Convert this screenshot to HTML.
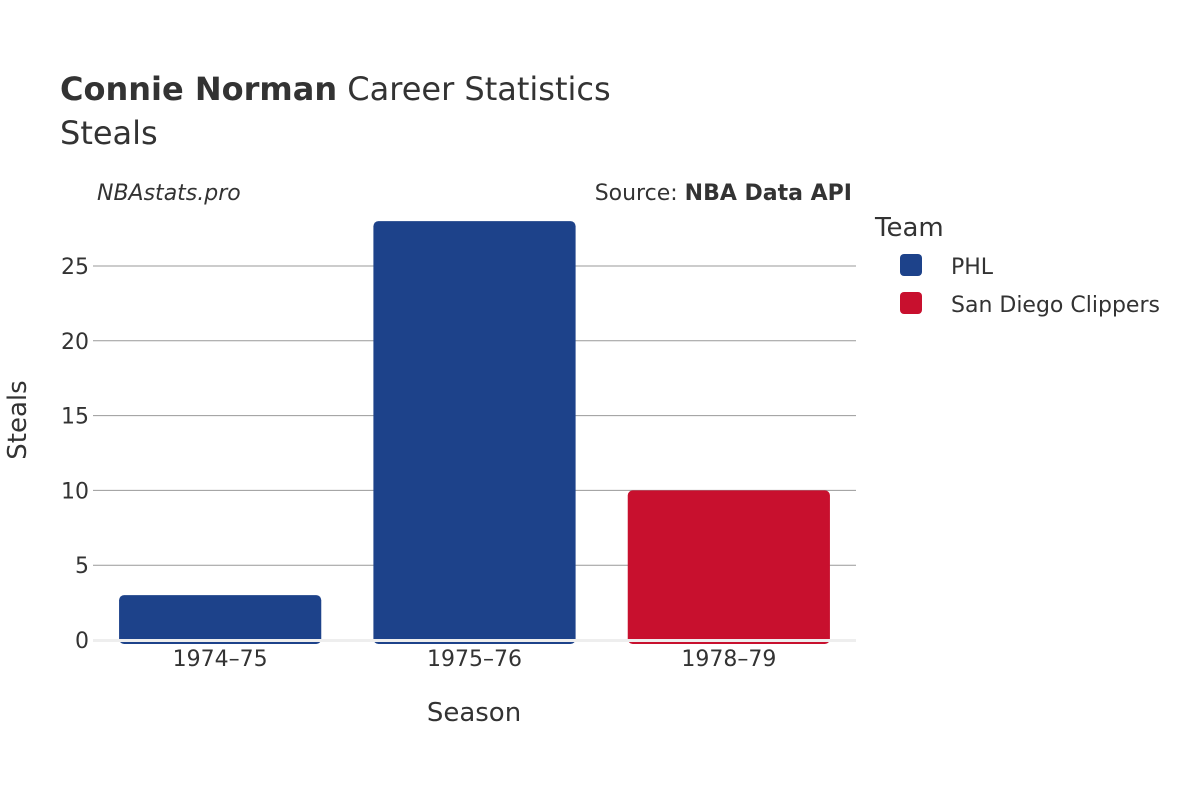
<!DOCTYPE html>
<html><head><meta charset="utf-8"><style>
body{margin:0;background:#fff;}
svg{font-family:"DejaVu Sans","Liberation Sans",sans-serif;}
</style></head><body>
<svg id="chart" width="1200" height="800" xmlns="http://www.w3.org/2000/svg">
<text x="60" y="100" font-size="32" fill="#333"><tspan font-weight="bold">Connie Norman</tspan> Career Statistics</text>
<text x="60" y="144" font-size="32" fill="#333">Steals</text>
<text x="97" y="200" font-size="22" font-style="italic" fill="#333">NBAstats.pro</text>
<text x="852" y="200" font-size="22" fill="#333" text-anchor="end">Source: <tspan font-weight="bold">NBA Data API</tspan></text>
<g id="grid"></g>
<rect x="93" y="639" width="763" height="3" fill="#eee"/>
<g id="bars"></g>
<g id="xticks"></g>
<text x="474" y="721" font-size="26" fill="#333" text-anchor="middle">Season</text>
<text transform="translate(26,420) rotate(-90)" font-size="26" fill="#333" text-anchor="middle">Steals</text>
<text x="875" y="236" font-size="26" fill="#333">Team</text>
<g><rect x="900" y="254" width="22" height="22" rx="4" fill="#1d428a"/><text x="951" y="274" font-size="22" fill="#333">PHL</text></g>
<g><rect x="900" y="292" width="22" height="22" rx="4" fill="#c8102e"/><text x="951" y="312" font-size="22" fill="#333">San Diego Clippers</text></g>
</svg>
<script>
const seasons=["1974–75","1975–76","1978–79"];
const steals=[3,28,10];
const teams=["PHL","PHL","San Diego Clippers"];
const yTicks=[0,5,10,15,20,25];
const colors={"PHL":"#1d428a","San Diego Clippers":"#c8102e"};
const NS="http://www.w3.org/2000/svg";
const x0=93,x1=856,y0=640,pxPerUnit=14.96;
function yScale(v){return y0-v*pxPerUnit;}
const band=(x1-x0)/seasons.length;
function xCenter(i){return x0+band*(i+0.5);}
const grid=document.getElementById('grid');
yTicks.forEach(t=>{
  if(t>0){const l=document.createElementNS(NS,'line');
  l.setAttribute('x1',x0);l.setAttribute('x2',x1);l.setAttribute('y1',yScale(t));l.setAttribute('y2',yScale(t));
  l.setAttribute('stroke','#999');l.setAttribute('stroke-width','1');
  
  
  grid.appendChild(l);}
  const tx=document.createElementNS(NS,'text');
  tx.setAttribute('x',89);tx.setAttribute('y',yScale(t)+8);tx.setAttribute('text-anchor','end');
  tx.setAttribute('font-size','22');tx.setAttribute('fill','#333');tx.textContent=t;
  
  
  grid.appendChild(tx);
});
const bars=document.getElementById('bars'),xt=document.getElementById('xticks');
const bw=band*0.795;
seasons.forEach((s,i)=>{
  const r=document.createElementNS(NS,'rect');
  const top=yScale(steals[i]);
  r.setAttribute('x',xCenter(i)-bw/2);r.setAttribute('y',top);r.setAttribute('width',bw);r.setAttribute('height',y0-top+4);
  r.setAttribute('rx','5');r.setAttribute('fill',colors[teams[i]]);
  
  
  bars.appendChild(r);
  const t=document.createElementNS(NS,'text');
  t.setAttribute('x',xCenter(i));t.setAttribute('y',666);t.setAttribute('text-anchor','middle');
  t.setAttribute('font-size','22');t.setAttribute('fill','#333');t.textContent=s;
  
  
  xt.appendChild(t);
});
// cover bar bottoms under axis line
const cover=document.createElementNS(NS,'rect');
cover.setAttribute('x',x0);cover.setAttribute('y',639);cover.setAttribute('width',x1-x0);cover.setAttribute('height',3);cover.setAttribute('fill','#eee');


bars.appendChild(cover);
</script>
</body></html>
